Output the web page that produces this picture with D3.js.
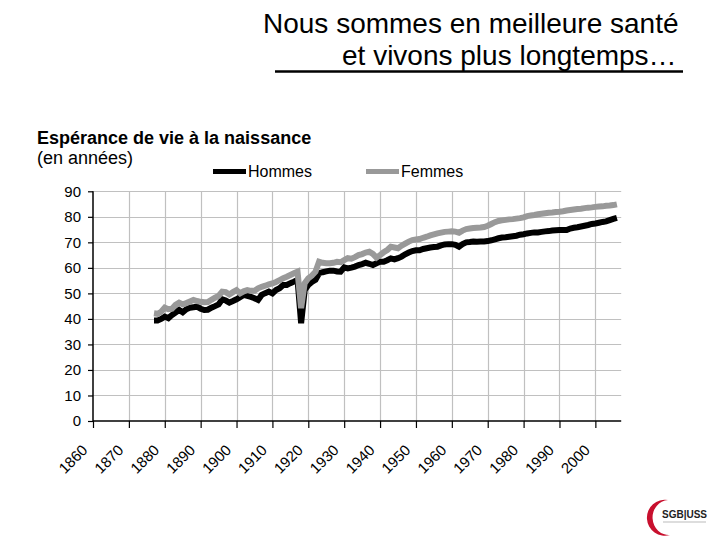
<!DOCTYPE html>
<html><head><meta charset="utf-8">
<script src="https://cdn.jsdelivr.net/npm/d3@7"></script>
<style>body{margin:0;background:#fff}svg{display:block;font-family:Arial,"Liberation Sans",sans-serif}</style>
</head><body>
<svg id="c" width="720" height="540"></svg>
<script>
const startYear = 1877;
const hommes = [39.4,39.4,40.0,40.9,40.3,41.5,42.5,43.5,42.6,43.8,44.4,44.6,44.8,44.0,43.5,43.6,44.4,45.0,45.7,47.7,47.2,46.4,47.0,47.7,48.5,49.4,49.0,48.6,48.1,47.4,49.4,50.1,50.7,50.0,51.3,52.0,53.3,53.3,54.0,54.6,55.3,38.3,51.3,53.3,54.5,55.3,57.9,58.3,58.6,58.9,58.9,58.6,58.5,60.2,59.8,60.1,60.5,61.1,61.5,62.0,61.6,61.1,61.8,62.4,62.4,63.0,63.7,63.3,63.8,64.4,65.3,66.0,66.6,66.9,66.9,67.4,67.7,68.0,68.2,68.3,68.8,69.2,69.3,69.3,69.0,68.3,69.3,70.0,70.1,70.3,70.2,70.3,70.3,70.5,70.8,71.2,71.6,71.9,72.0,72.2,72.4,72.6,73.0,73.2,73.5,73.7,73.9,73.9,74.1,74.3,74.4,74.6,74.7,74.8,74.8,74.8,75.4,75.7,75.9,76.2,76.5,76.8,77.2,77.4,77.7,78.0,78.2,78.7,79.2,79.6];
const femmes = [42.2,42.0,42.8,44.4,43.8,44.0,45.5,46.4,45.7,46.2,46.8,47.4,47.0,46.7,46.5,46.6,47.5,48.3,49.0,50.7,50.5,49.6,50.5,51.3,50.0,50.8,51.3,51.0,51.0,52.0,52.6,53.0,53.5,53.9,54.5,55.2,55.9,56.5,57.2,57.9,58.5,44.2,54.0,55.9,57.0,58.5,62.4,62.0,61.8,61.8,62.0,62.4,62.2,63.0,63.8,63.6,64.2,65.0,65.4,66.0,66.3,65.5,64.0,65.0,66.1,67.0,68.3,68.0,67.7,68.7,69.5,70.3,70.9,71.1,71.3,71.8,72.2,72.7,73.1,73.5,73.8,74.1,74.2,74.3,74.2,73.8,74.6,75.2,75.4,75.6,75.7,75.8,76.0,76.5,77.2,77.9,78.4,78.6,78.8,79.0,79.1,79.3,79.5,79.8,80.3,80.5,80.7,81.0,81.2,81.4,81.6,81.7,81.9,82.0,82.2,82.5,82.7,82.9,83.1,83.2,83.4,83.6,83.7,83.9,84.0,84.1,84.3,84.4,84.6,84.9];
const xTicks = [1860,1870,1880,1890,1900,1910,1920,1930,1940,1950,1960,1970,1980,1990,2000];
const yTicks = [0,10,20,30,40,50,60,70,80,90];
const seriesNames = ["Hommes","Femmes"];

const svg = d3.select("#c");
const x = d3.scaleLinear().domain([1860, 2007.2]).range([93, 621.2]);
const y = d3.scaleLinear().domain([0, 90]).range([421, 191.3]);

// Title
svg.append("text").attr("x",263).attr("y",33).attr("font-size",28).text("Nous sommes en meilleure santé");
svg.append("text").attr("x",342).attr("y",65).attr("font-size",28).text("et vivons plus longtemps…");
svg.append("line").attr("x1",275).attr("x2",683).attr("y1",71.5).attr("y2",71.5).attr("stroke","#000").attr("stroke-width",2.5);

svg.append("text").attr("x",37).attr("y",144).attr("font-size",18).attr("font-weight","bold").text("Espérance de vie à la naissance");
svg.append("text").attr("x",37).attr("y",164).attr("font-size",18).text("(en années)");

// grid
const g = svg.append("g");
g.selectAll("line.hg").data(yTicks.filter(d=>d>0)).join("line")
  .attr("x1",x(1860)).attr("x2",x(2007.2)).attr("y1",d=>Math.round(y(d))+0.5).attr("y2",d=>Math.round(y(d))+0.5)
  .attr("stroke","#c0c0c0").attr("stroke-width",1.2);
g.selectAll("line.vg").data(xTicks.filter(d=>d>1860)).join("line")
  .attr("x1",d=>Math.round(x(d))+0.5).attr("x2",d=>Math.round(x(d))+0.5).attr("y1",y(90)).attr("y2",y(0))
  .attr("stroke","#c0c0c0").attr("stroke-width",1.2);

// axes
const yAxis = d3.axisLeft(y).tickValues(yTicks).tickSize(5).tickPadding(7);
const ya = svg.append("g").attr("transform",`translate(${x(1860)},0)`).call(yAxis);
ya.select(".domain").attr("stroke","#000").attr("stroke-width",1.5).attr("d",`M0,${y(90)}V${y(0)}`);
ya.selectAll(".tick line").attr("stroke","#000").attr("stroke-width",1.2);
ya.selectAll(".tick text").attr("font-size",15).attr("font-family","Arial,'Liberation Sans',sans-serif").attr("fill","#000");

const xAxis = d3.axisBottom(x).tickValues(xTicks).tickSize(7).tickFormat(d3.format("d"));
const xa = svg.append("g").attr("transform",`translate(0,${y(0)})`).call(xAxis);
xa.select(".domain").attr("stroke","#000").attr("stroke-width",1.5).attr("d",`M${x(1860)},0H${x(2007.2)}`);
xa.selectAll(".tick line").attr("stroke","#000").attr("stroke-width",1.2);
xa.selectAll(".tick text").attr("font-size",15).attr("font-family","Arial,'Liberation Sans',sans-serif").attr("fill","#000")
  .attr("text-anchor","end").attr("dy",null).attr("y",null)
  .attr("transform","translate(-5,30) rotate(-45)");

// lines
const line = d3.line().x((d,i)=>x(startYear+i)).y(d=>y(d));
svg.append("path").datum(hommes).attr("d",line).attr("fill","none").attr("stroke","#000").attr("stroke-width",6);
svg.append("path").datum(femmes).attr("d",line).attr("fill","none").attr("stroke","#999").attr("stroke-width",6);

// legend
const leg = [{n:seriesNames[0],c:"#000",x:213},{n:seriesNames[1],c:"#999",x:366}];
leg.forEach(l=>{
  svg.append("line").attr("x1",l.x).attr("x2",l.x+33).attr("y1",171.5).attr("y2",171.5).attr("stroke",l.c).attr("stroke-width",5);
  svg.append("text").attr("x",l.x+35).attr("y",177).attr("font-size",16).text(l.n);
});

// logo
svg.append("path").attr("d","M668,500 A18,18 0 1 0 670,535 A15,16 0 1 1 668,500 Z").attr("fill","#c8102e");
svg.append("text").attr("x",662).attr("y",518).attr("font-size",10).attr("font-weight","bold").attr("fill","#222").text("SGB|USS");
svg.append("line").attr("x1",663).attr("x2",706).attr("y1",522).attr("y2",522).attr("stroke","#bbb").attr("stroke-width",1);
</script>
</body></html>
